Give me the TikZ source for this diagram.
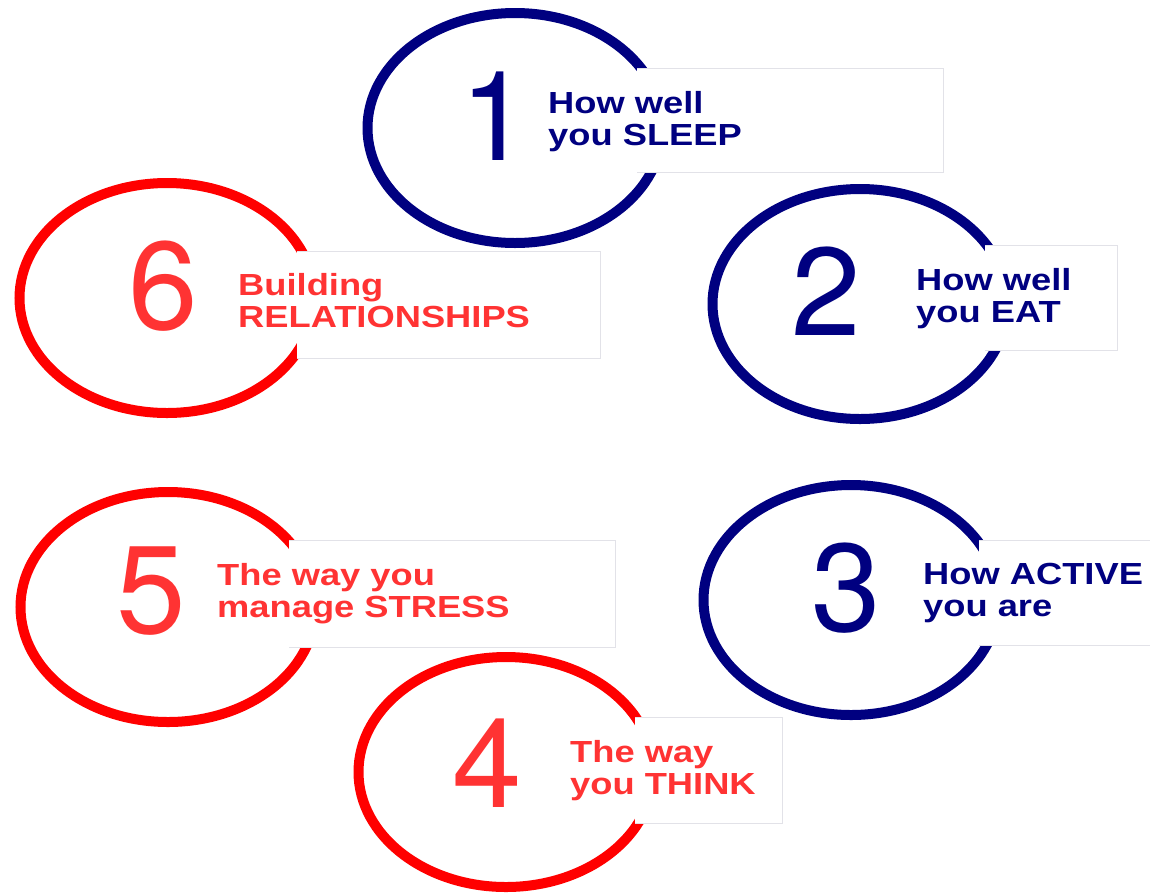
\documentclass[tikz,border=0pt]{standalone}
\usepackage{fontspec}
\setmainfont{Liberation Sans}
\newfontfamily\lblfont[FakeStretch=1.19]{Liberation Sans}
\newfontfamily\numfont{TeX Gyre Heros}
\usetikzlibrary{shapes.geometric,positioning}

\definecolor{navy}{RGB}{0,0,128}
\definecolor{ringred}{RGB}{255,0,0}
\definecolor{textred}{RGB}{255,51,51}
\definecolor{tagline}{RGB}{226,226,232}

\begin{document}
\begin{tikzpicture}[x=1pt,y=-1pt,
	ring/.style={ellipse,draw,line width=10pt,minimum width=295pt,minimum height=230pt,inner sep=0pt},
	tag/.style={rectangle,fill=white,anchor=north west,inner sep=0pt},
	tagedge/.style={draw=tagline,line width=0.8pt},
	num/.style={font=\numfont\fontsize{125}{125}\selectfont,inner sep=0pt},
	lbl/.style={font=\lblfont\bfseries\fontsize{30.5}{32}\selectfont,align=left,anchor=north west,inner sep=0pt}
	]

	\useasboundingbox[fill=white] (0,0) rectangle (1150,892);

	% the six rings
	\node[ring,draw=navy] (ring1) at (515,128) {};
	\node[ring,draw=navy] (ring2) at (860,304) {};
	\node[ring,draw=navy] (ring3) at (851,600) {};
	\node[ring,draw=ringred] (ring4) at (506,772) {};
	\node[ring,draw=ringred] (ring5) at (168,607) {};
	\node[ring,draw=ringred] (ring6) at (167,298) {};

	% white tags over the right side of each ring
	\node[tag,minimum width=306pt,minimum height=104pt] (tag1) at (637,68) {};
	\node[tag,minimum width=132pt,minimum height=105pt] (tag2) at (985,245) {};
	\node[tag,minimum width=178pt,minimum height=105pt] (tag3) at (979,540) {};
	\node[tag,minimum width=147pt,minimum height=106pt] (tag4) at (635,717) {};
	\node[tag,minimum width=326pt,minimum height=107pt] (tag5) at (289,540) {};
	\node[tag,minimum width=303pt,minimum height=107pt] (tag6) at (297,251) {};

	\draw[tagedge] (tag1.north west) -- (tag1.north east) -- (tag1.south east) -- (tag1.south west);
	\draw[tagedge] (tag2.north west) -- (tag2.north east) -- (tag2.south east) -- (tag2.south west);
	\draw[tagedge] (tag3.north west) -- (tag3.north east) -- (tag3.south east) -- (tag3.south west);
	\draw[tagedge] (tag4.north west) -- (tag4.north east) -- (tag4.south east) -- (tag4.south west);
	\draw[tagedge] (tag5.north west) -- (tag5.north east) -- (tag5.south east) -- (tag5.south west);
	\draw[tagedge] (tag6.north west) -- (tag6.north east) -- (tag6.south east) -- (tag6.south west);

	\node[num,text=navy] (n1) at (495,116) {1};
	\node[num,text=navy] (n2) at (826,291) {2};
	\node[num,text=navy] (n3) at (846,588) {3};
	\node[num,text=textred] (n4) at (487,763) {4};
	\node[num,text=textred] (n5) at (151,591) {5};
	\node[num,text=textred] (n6) at (163,286) {6};

	\node[lbl,text=navy] (l1) at (548,91) {How well\\you SLEEP};
	\node[lbl,text=navy] (l2) at (916,268) {How well\\you EAT};
	\node[lbl,text=navy] (l3) at (923,563) {How ACTIVE\\you are};
	\node[lbl,text=textred] (l4) at (570,740) {The way\\you THINK};
	\node[lbl,text=textred] (l5) at (217,563) {The way you\\manage STRESS};
	\node[lbl,text=textred] (l6) at (238,273) {Building\\RELATIONSHIPS};

\end{tikzpicture}
\end{document}
